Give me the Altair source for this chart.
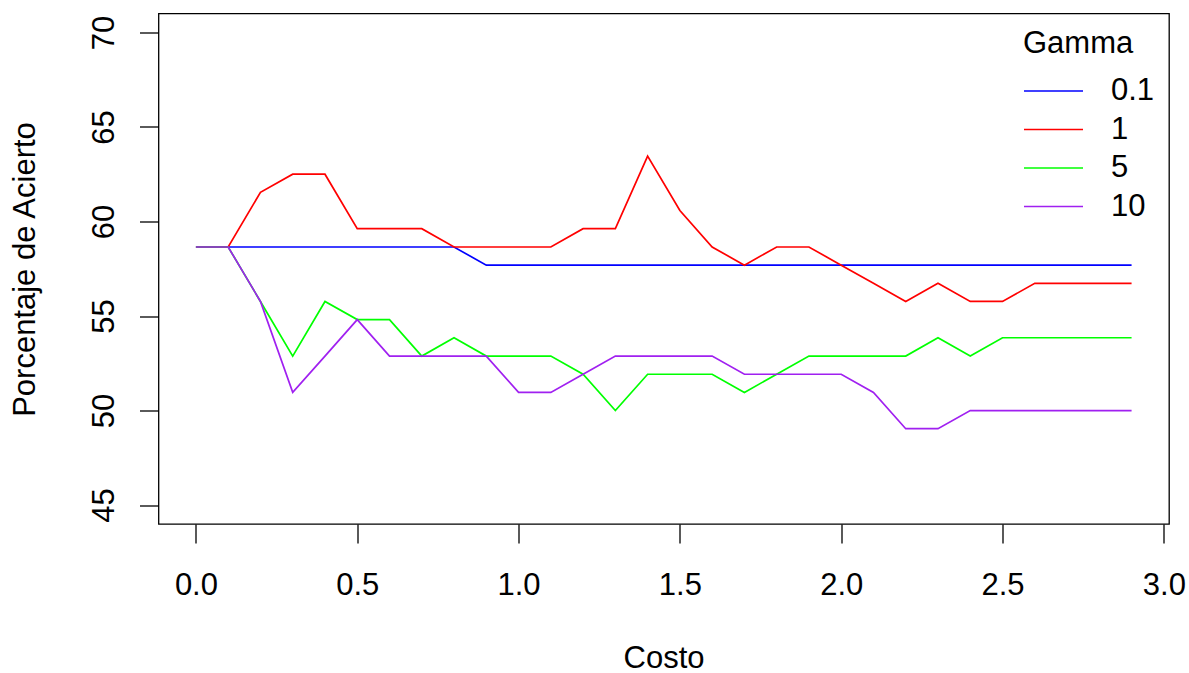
import altair as alt
import pandas as pd

costo = [0.0, 0.1, 0.2, 0.3, 0.4, 0.5, 0.6, 0.7, 0.8, 0.9,
         1.0, 1.1, 1.2, 1.3, 1.4, 1.5, 1.6, 1.7, 1.8, 1.9,
         2.0, 2.1, 2.2, 2.3, 2.4, 2.5, 2.6, 2.7, 2.8, 2.9]

g01 = [58.65, 58.65, 58.65, 58.65, 58.65, 58.65, 58.65, 58.65, 58.65, 57.69,
       57.69, 57.69, 57.69, 57.69, 57.69, 57.69, 57.69, 57.69, 57.69, 57.69,
       57.69, 57.69, 57.69, 57.69, 57.69, 57.69, 57.69, 57.69, 57.69, 57.69]
g1 = [58.65, 58.65, 61.54, 62.50, 62.50, 59.62, 59.62, 59.62, 58.65, 58.65,
      58.65, 58.65, 59.62, 59.62, 63.46, 60.58, 58.65, 57.69, 58.65, 58.65,
      57.69, 56.73, 55.77, 56.73, 55.77, 55.77, 56.73, 56.73, 56.73, 56.73]
g5 = [58.65, 58.65, 55.77, 52.88, 55.77, 54.81, 54.81, 52.88, 53.85, 52.88,
      52.88, 52.88, 51.92, 50.00, 51.92, 51.92, 51.92, 50.96, 51.92, 52.88,
      52.88, 52.88, 52.88, 53.85, 52.88, 53.85, 53.85, 53.85, 53.85, 53.85]
g10 = [58.65, 58.65, 55.77, 50.96, 52.88, 54.81, 52.88, 52.88, 52.88, 52.88,
       50.96, 50.96, 51.92, 52.88, 52.88, 52.88, 52.88, 51.92, 51.92, 51.92,
       51.92, 50.96, 49.04, 49.04, 50.00, 50.00, 50.00, 50.00, 50.00, 50.00]

gammas = ["0.1", "1", "5", "10"]
colors = ["#0000FF", "#FF0000", "#00FF00", "#A020F0"]
series = [g01, g1, g5, g10]

x_ticks = [0.0, 0.5, 1.0, 1.5, 2.0, 2.5, 3.0]
y_ticks = [45, 50, 55, 60, 65, 70]

rows = []
for gname, vals in zip(gammas, series):
    for c, v in zip(costo, vals):
        rows.append({"Costo": c, "Acierto": v, "Gamma": gname})
df = pd.DataFrame(rows)

FONT = "Liberation Sans"
FS = 31

x_enc = alt.X(
    "Costo:Q",
    scale=alt.Scale(domain=[-0.116, 3.016], nice=False, zero=False),
    axis=alt.Axis(
        values=x_ticks, format=".1f", title="Costo", grid=False, domain=False,
        tickSize=19, tickWidth=1.3, tickColor="black",
        labelFont=FONT, labelFontSize=FS, labelColor="black", labelPadding=27,
        labelFlush=False, labelOverlap=False,
        titleFont=FONT, titleFontSize=FS, titleFontWeight="normal", titleColor="black",
        titleBaseline="alphabetic", titleX=505, titleY=143, titleAlign="center",
    ),
)
y_enc = alt.Y(
    "Acierto:Q",
    scale=alt.Scale(domain=[44, 71], nice=False, zero=False),
    axis=alt.Axis(
        values=y_ticks, format="d", title="Porcentaje de Acierto", grid=False, domain=False,
        tickSize=19, tickWidth=1.3, tickColor="black",
        labelFont=FONT, labelFontSize=FS, labelColor="black", labelPadding=26,
        labelAngle=270, labelAlign="center", labelBaseline="alphabetic",
        labelFlush=False, labelOverlap=False,
        titleFont=FONT, titleFontSize=FS, titleFontWeight="normal", titleColor="black",
        titleAngle=270, titleBaseline="alphabetic", titleAlign="center",
        titleX=-124, titleY=255.5,
    ),
)
color_enc = alt.Color(
    "Gamma:N",
    scale=alt.Scale(domain=gammas, range=colors),
    legend=alt.Legend(
        title="Gamma", orient="none", legendX=864.5, legendY=15.5,
        symbolType="stroke", symbolSize=3481, symbolStrokeWidth=1.7,
        labelFont=FONT, labelFontSize=FS, labelColor="black", labelOffset=27,
        titleFont=FONT, titleFontSize=FS, titleFontWeight="normal", titleColor="black",
        titlePadding=12, clipHeight=38, rowPadding=0.5, padding=0,
    ),
)

layers = []
for gname in gammas:
    layers.append(
        alt.Chart(df)
        .transform_filter(alt.datum.Gamma == gname)
        .mark_line(strokeWidth=1.7)
        .encode(x=x_enc, y=y_enc, color=color_enc)
    )

chart = (
    alt.layer(*layers)
    .properties(
        width=1010.5, height=510.5,
        padding={"left": 158.5, "top": 13.5, "right": 19.5, "bottom": 149},
        autosize=alt.AutoSizeParams(type="none"),
        background="white",
    )
    .configure_view(stroke="black", strokeWidth=1.3)
)

chart.save("out.html", embed_options={"renderer": "svg", "actions": False})
